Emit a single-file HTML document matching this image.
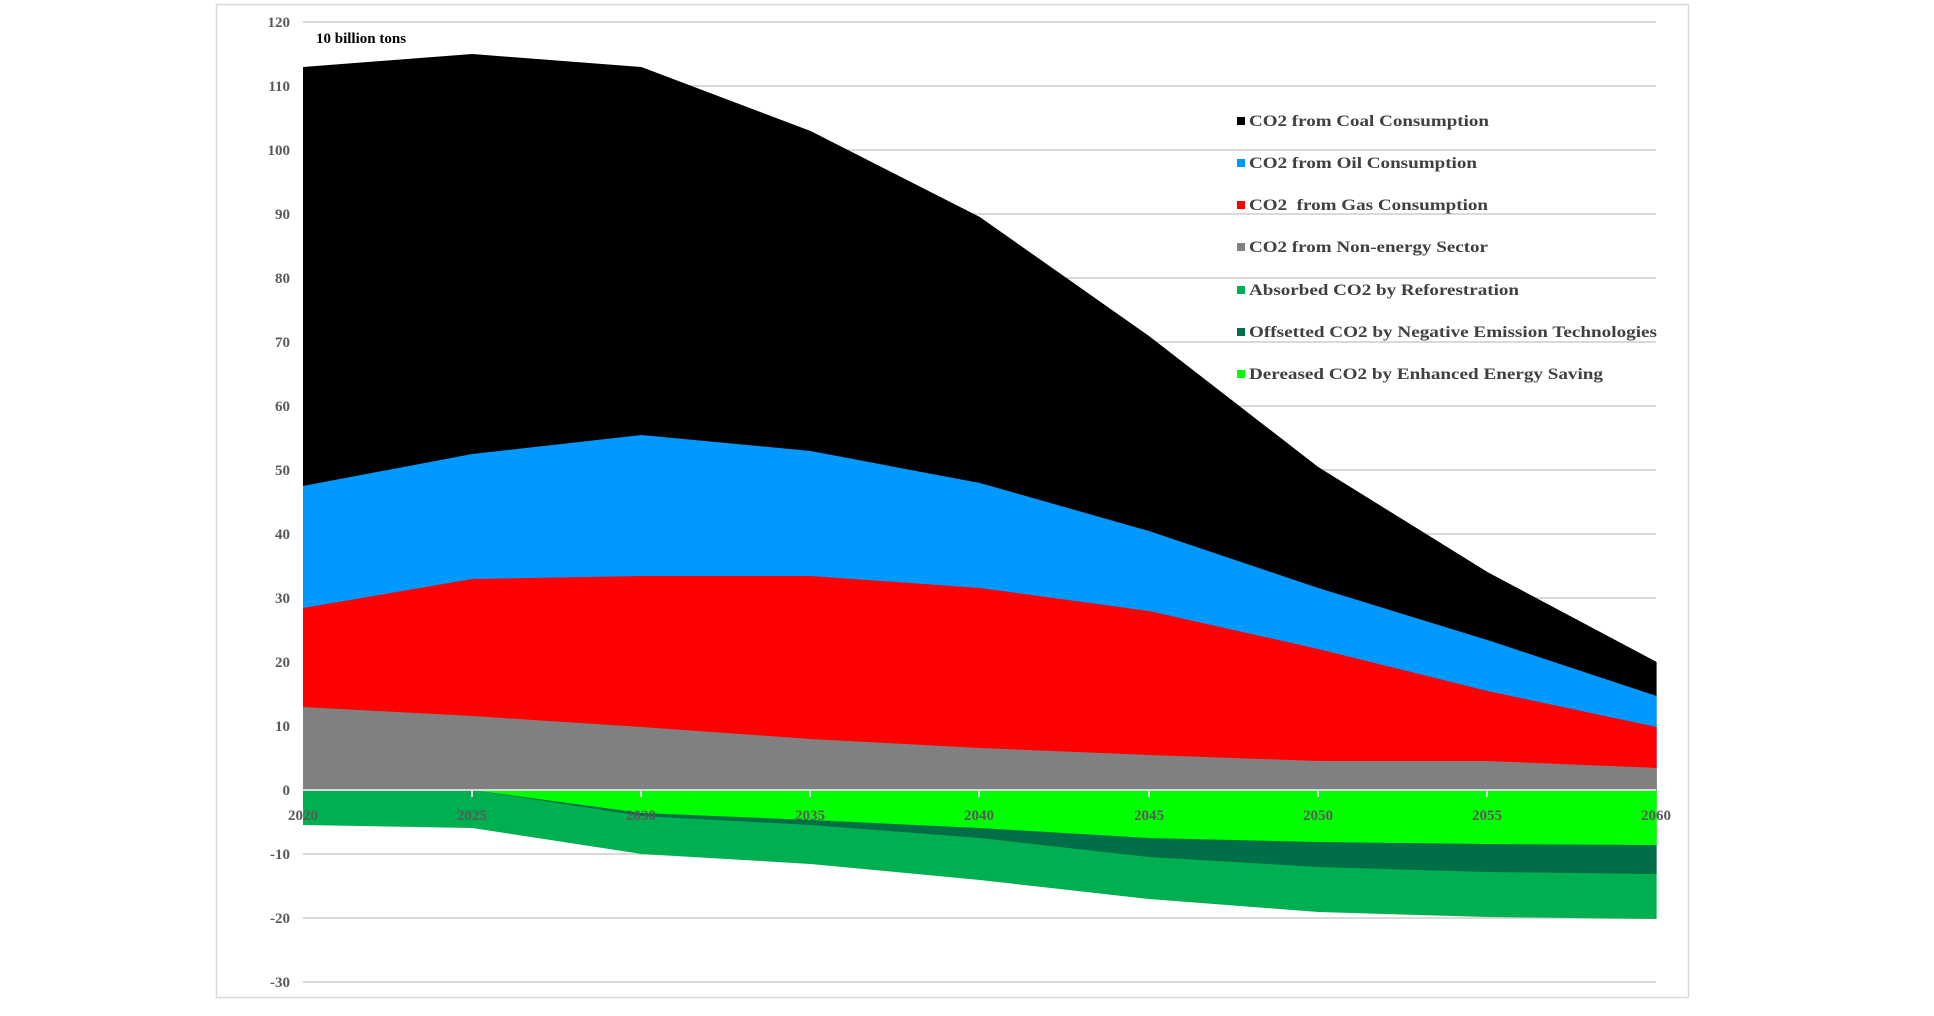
<!DOCTYPE html>
<html><head><meta charset="utf-8"><style>
html,body{margin:0;padding:0;background:#fff;}
svg{display:block;}
text{font-family:"Liberation Serif",serif;font-weight:bold;}
</style></head><body>
<svg width="1934" height="1016" viewBox="0 0 1934 1016" xmlns="http://www.w3.org/2000/svg">
<rect x="216.5" y="4.5" width="1472" height="993" fill="#fff" stroke="#d9d9d9" stroke-width="1.5"/>
<g stroke="#d9d9d9" stroke-width="2">
<line x1="303" x2="1656" y1="22" y2="22"/>
<line x1="303" x2="1656" y1="86" y2="86"/>
<line x1="303" x2="1656" y1="150" y2="150"/>
<line x1="303" x2="1656" y1="214" y2="214"/>
<line x1="303" x2="1656" y1="278" y2="278"/>
<line x1="303" x2="1656" y1="342" y2="342"/>
<line x1="303" x2="1656" y1="406" y2="406"/>
<line x1="303" x2="1656" y1="470" y2="470"/>
<line x1="303" x2="1656" y1="534" y2="534"/>
<line x1="303" x2="1656" y1="598" y2="598"/>
<line x1="303" x2="1656" y1="662" y2="662"/>
<line x1="303" x2="1656" y1="726" y2="726"/>
<line x1="303" x2="1656" y1="854" y2="854"/>
<line x1="303" x2="1656" y1="918" y2="918"/>
<line x1="303" x2="1656" y1="982" y2="982"/>
</g>
<g transform="translate(303 0) scale(0.9953 1) translate(-305 0)">
<polygon fill="#000" points="305,67 475,54 645,67 815,131 985,217 1155,336 1325,467 1495,572 1665,662 1665,790 305,790"/>
<polygon fill="#0099ff" points="305,486 475,454 645,435 815,451 985,483 1155,531 1325,588 1495,640 1665,696 1665,790 305,790"/>
<polygon fill="#ff0000" points="305,608 475,579 645,576 815,576 985,588 1155,611 1325,649 1495,691 1665,727 1665,790 305,790"/>
<polygon fill="#808080" points="305,707 475,716 645,727 815,739 985,748 1155,755 1325,761 1495,761 1665,768 1665,790 305,790"/>
<polygon fill="#00b050" points="305,790 1665,790 1665,919 1495,917 1325,912 1155,899 985,880 815,864 645,854 475,828 305,825"/>
<polygon fill="#006f48" points="305,790 1665,790 1665,874 1495,872 1325,867 1155,857 985,838 815,825 645,816 475,790 305,790"/>
<polygon fill="#00ff00" points="305,790 1665,790 1665,845 1495,844 1325,842 1155,838 985,828 815,820 645,813 475,790 305,790"/>
</g>
<line x1="303" x2="1656" y1="790" y2="790" stroke="#d9d9d9" stroke-width="2"/>
<g stroke="#d9d9d9" stroke-width="2">
<line x1="472" x2="472" y1="790" y2="797"/><line x1="641" x2="641" y1="790" y2="797"/><line x1="810" x2="810" y1="790" y2="797"/><line x1="979" x2="979" y1="790" y2="797"/><line x1="1149" x2="1149" y1="790" y2="797"/><line x1="1318" x2="1318" y1="790" y2="797"/><line x1="1487" x2="1487" y1="790" y2="797"/>
</g>
<g fill="#595959" font-size="15" text-anchor="end">
<text x="290" y="27">120</text><text x="290" y="91">110</text><text x="290" y="155">100</text><text x="290" y="219">90</text><text x="290" y="283">80</text><text x="290" y="347">70</text><text x="290" y="411">60</text><text x="290" y="475">50</text><text x="290" y="539">40</text><text x="290" y="603">30</text><text x="290" y="667">20</text><text x="290" y="731">10</text><text x="290" y="795">0</text><text x="290" y="859">-10</text><text x="290" y="923">-20</text><text x="290" y="987">-30</text>
</g>
<g fill="#595959" font-size="15" text-anchor="middle">
<text x="303" y="820">2020</text><text x="472" y="820">2025</text><text x="641" y="820">2030</text><text x="810" y="820">2035</text><text x="979" y="820">2040</text><text x="1149" y="820">2045</text><text x="1318" y="820">2050</text><text x="1487" y="820">2055</text><text x="1656" y="820">2060</text>
</g>
<text x="316" y="43" font-size="15" fill="#000">10 billion tons</text>
<g font-size="16" fill="#404040" lengthAdjust="spacingAndGlyphs">
<rect x="1237" y="117" width="8" height="8" fill="#000"/><text x="1249" y="126" textLength="240" lengthAdjust="spacingAndGlyphs">CO2 from Coal Consumption</text>
<rect x="1237" y="159" width="8" height="8" fill="#0099ff"/><text x="1249" y="168" textLength="228" lengthAdjust="spacingAndGlyphs">CO2 from Oil Consumption</text>
<rect x="1237" y="201" width="8" height="8" fill="#ff0000"/><text x="1249" y="210" textLength="239" lengthAdjust="spacingAndGlyphs">CO2&#160; from Gas Consumption</text>
<rect x="1237" y="243" width="8" height="8" fill="#808080"/><text x="1249" y="252" textLength="239" lengthAdjust="spacingAndGlyphs">CO2 from Non-energy Sector</text>
<rect x="1237" y="286" width="8" height="8" fill="#00b050"/><text x="1249" y="295" textLength="270" lengthAdjust="spacingAndGlyphs">Absorbed CO2 by Reforestration</text>
<rect x="1237" y="328" width="8" height="8" fill="#006f48"/><text x="1249" y="337" textLength="408" lengthAdjust="spacingAndGlyphs">Offsetted CO2 by Negative Emission Technologies</text>
<rect x="1237" y="370" width="8" height="8" fill="#00ff00"/><text x="1249" y="379" textLength="354" lengthAdjust="spacingAndGlyphs">Dereased CO2 by Enhanced Energy Saving</text>
</g>
</svg>
</body></html>
